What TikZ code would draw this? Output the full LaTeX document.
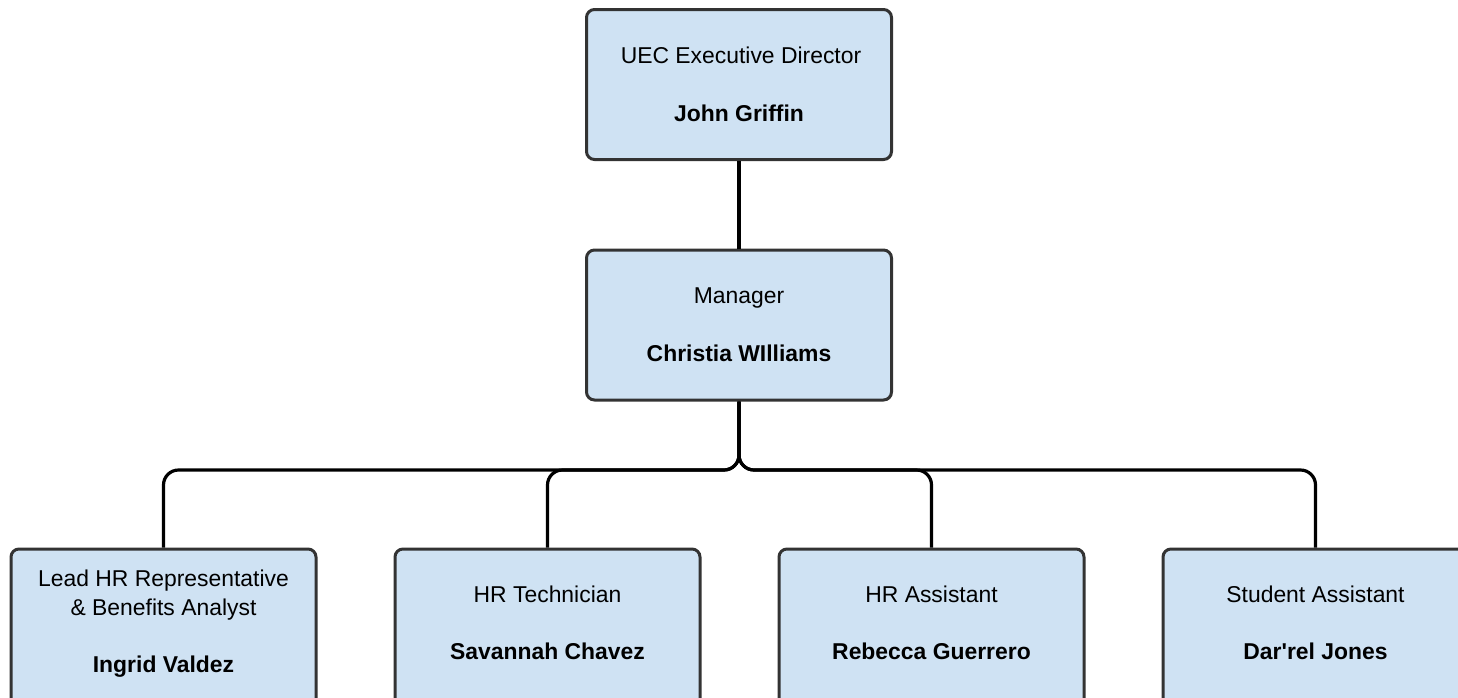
\documentclass[tikz,border=0pt]{standalone}
\usepackage{fontspec}
\setmainfont{Liberation Sans}[Ligatures=TeXOff]
\definecolor{boxfill}{HTML}{CFE2F3}
\definecolor{boxline}{HTML}{333333}
\begin{document}
\begin{tikzpicture}[x=1pt,y=-1pt,
  orgbox/.style={draw=boxline, line width=3pt, fill=boxfill, rounded corners=8pt,
    minimum width=305pt, minimum height=150pt, inner sep=0pt},
  tallbox/.style={orgbox, minimum height=170pt},
  role/.style={anchor=base, font=\fontsize{22.9}{27}\selectfont, inner sep=0pt},
  who/.style={anchor=base, font=\fontsize{22.9}{27}\selectfont\bfseries, inner sep=0pt},
  link/.style={draw=black, line width=3.2pt, rounded corners=15pt}]
\useasboundingbox (0,0) rectangle (1458,697);
\clip (0,0) rectangle (1458,697);
% boxes
\node[orgbox] (dir) at (739,84.5) {};
\node[orgbox] (mgr) at (739,325) {};
\node[tallbox, anchor=north] (c1) at (163.5,547.5) {};
\node[tallbox, anchor=north] (c2) at (547.5,547.5) {};
\node[tallbox, anchor=north] (c3) at (931.5,547.5) {};
\node[tallbox, anchor=north] (c4) at (1315.5,547.5) {};
% texts
\node[role] (t1) at (741,63) {UEC Executive Director};
\node[who]  (n1) at (739,121) {John Griffin};
\node[role] (t2) at (739,303) {Manager};
\node[who]  (n2) at (739,361) {Christia WIlliams};
\node[role] (t3a) at (163.5,586) {Lead HR Representative};
\node[role] (t3b) at (163.5,615) {\& Benefits Analyst};
\node[who]  (n3) at (163.5,672) {Ingrid Valdez};
\node[role] (t4) at (547.5,602) {HR Technician};
\node[who]  (n4) at (547.5,659) {Savannah Chavez};
\node[role] (t5) at (931.5,602) {HR Assistant};
\node[who]  (n5) at (931.5,659) {Rebecca Guerrero};
\node[role] (t6) at (1315.5,602) {Student Assistant};
\node[who]  (n6) at (1315.5,659) {Dar'rel Jones};
% connectors
\coordinate (bus) at (739,470);
\draw[link] (dir.south) -- (mgr.north);
\foreach \c in {c1,c2,c3,c4}
  \draw[link] (mgr.south) -- (bus) -| (\c.north);
\end{tikzpicture}
\end{document}
